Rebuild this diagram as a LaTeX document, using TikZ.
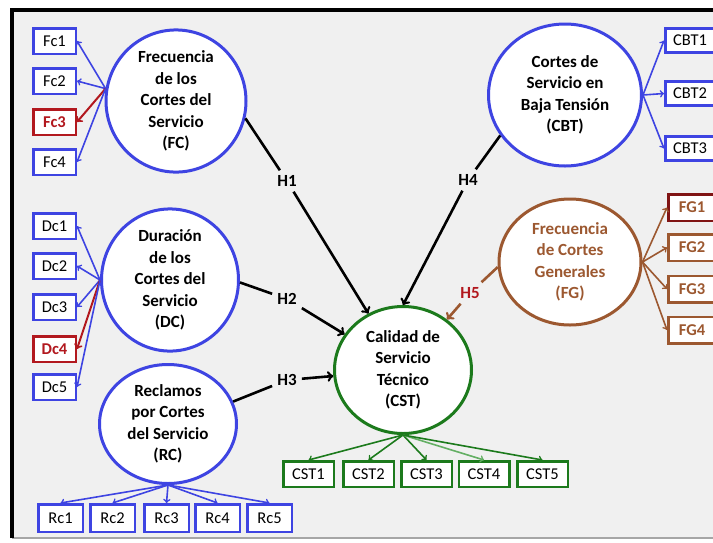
\documentclass[tikz,border=0pt]{standalone}
\usepackage{fontspec}
\setmainfont{Carlito}
\usepackage{tikz}
\usetikzlibrary{shapes.geometric}

\definecolor{lineBlue}{RGB}{62,68,226}
\definecolor{lineRed}{RGB}{178,24,30}
\definecolor{darkRed}{RGB}{128,20,20}
\definecolor{lineGreen}{RGB}{28,122,28}
\definecolor{lightGreen}{RGB}{100,175,100}
\definecolor{lineBrown}{RGB}{156,88,48}
\definecolor{panelGray}{RGB}{240,240,240}

\tikzset{
  factor/.style={ellipse, draw=lineBlue, line width=3pt, fill=white, align=center,
    inner sep=0pt, font=\bfseries\fontsize{17}{21.5}\selectfont},
  item/.style={draw=lineBlue, line width=2.5pt, fill=white, inner sep=0pt,
    minimum width=42.5pt, minimum height=25.5pt, font=\fontsize{16.5}{19}\selectfont},
  badItem/.style={draw=lineRed, text=lineRed, font=\bfseries\fontsize{16.5}{19}\selectfont},
  link/.style={->, draw=lineBlue, line width=1.6pt},
  hypLabel/.style={inner sep=5pt, font=\bfseries\fontsize{17}{20}\selectfont}
}

\newcommand{\drawHyp}[6]{
  \node[hypLabel, text=#5] (#2) at #3 {#2};
  \draw[line width=2.6pt, #6] (#1) -- (#2);
  \draw[->, line width=2.6pt, #6] (#2) -- (#4);
}

\begin{document}
\begin{tikzpicture}[x=1pt, y=-1pt]
  \useasboundingbox (0,0) rectangle (713,542);
  % Frame
  \fill[panelGray] (12,10) rectangle (713,538);
  \draw[black!35, line width=1.5pt] (12,538) -- (713,538);
  \draw[line width=4pt] (12,538) -- (12,10) -- (713,10);

  % Factors
  \node[factor, minimum width=140pt, minimum height=117pt] (fc) at (176,101)
    {Frecuencia\\de los\\Cortes del\\Servicio\\(FC)};
  \node[factor, minimum width=137pt, minimum height=127pt] (dc) at (170,280)
    {Duración\\de los\\Cortes del\\Servicio\\(DC)};
  \node[factor, minimum width=137pt, minimum height=119pt] (rc) at (168,424)
    {Reclamos\\por Cortes\\del Servicio\\(RC)};
  \node[factor, minimum width=153pt, minimum height=142pt] (cbt) at (565,95)
    {Cortes de\\Servicio en\\Baja Tensión\\(CBT)};
  \node[factor, draw=lineBrown, text=lineBrown, minimum width=142pt, minimum height=126pt] (fg) at (570,262)
    {Frecuencia\\de Cortes\\Generales\\(FG)};
  \node[factor, draw=lineGreen, minimum width=137pt, minimum height=127pt] (cst) at (403,370)
    {Calidad de\\Servicio\\Técnico\\(CST)};

  % Indicators FC
  \node[item] (fc1) at (54.5,41) {Fc1};
  \node[item] (fc2) at (54.5,81) {Fc2};
  \node[item, badItem] (fc3) at (54.5,122) {Fc3};
  \node[item] (fc4) at (54.5,162) {Fc4};
  \draw[link] (fc.170) -- (fc1.east);
  \draw[link] (fc.170) -- (fc2.east);
  \draw[link, draw=lineRed, line width=2pt] (fc.170) -- (fc3.east);
  \draw[link] (fc.170) -- (fc4.east);

  % Indicators DC
  \node[item] (dc1) at (54.5,226) {Dc1};
  \node[item] (dc2) at (54.5,266) {Dc2};
  \node[item] (dc3) at (54.5,307) {Dc3};
  \node[item, badItem] (dc4) at (54.5,349) {Dc4};
  \node[item] (dc5) at (54.5,387) {Dc5};
  \draw[link] (dc.west) -- (dc1.east);
  \draw[link] (dc.west) -- (dc2.east);
  \draw[link] (dc.west) -- (dc3.east);
  \draw[link, draw=lineRed, line width=2pt] (dc.west) -- (dc4.east);
  \draw[link] (dc.west) -- (dc5.east);

  % Indicators RC
  \node[item, minimum width=44.5pt, minimum height=27.5pt] (rc1) at (60.5,518) {Rc1};
  \node[item, minimum width=44.5pt, minimum height=27.5pt] (rc2) at (112.5,518) {Rc2};
  \node[item, minimum width=44.5pt, minimum height=27.5pt] (rc3) at (166.5,518) {Rc3};
  \node[item, minimum width=44.5pt, minimum height=27.5pt] (rc4) at (217.5,518) {Rc4};
  \node[item, minimum width=44.5pt, minimum height=27.5pt] (rc5) at (269.5,518) {Rc5};
  \draw[link] (rc.south) -- (rc1.north);
  \draw[link] (rc.south) -- (rc2.north);
  \draw[link] (rc.south) -- (rc3.north);
  \draw[link] (rc.south) -- (rc4.north);
  \draw[link] (rc.south) -- (rc5.north);

  % Indicators CBT
  \node[item, minimum width=49.5pt, minimum height=24pt] (cbt1) at (690,40.5) {CBT1};
  \node[item, minimum width=49.5pt, minimum height=24pt] (cbt2) at (690,93.5) {CBT2};
  \node[item, minimum width=49.5pt, minimum height=24pt] (cbt3) at (690,148.5) {CBT3};
  \draw[link] (cbt.east) -- (cbt1.west);
  \draw[link] (cbt.east) -- (cbt2.west);
  \draw[link] (cbt.east) -- (cbt3.west);

  % Indicators FG
  \node[item, draw=darkRed, text=lineBrown, font=\bfseries\fontsize{16.5}{19}\selectfont,
    minimum width=47.5pt, minimum height=26.5pt] (fg1) at (692,207.5) {FG1};
  \node[item, draw=lineBrown, text=lineBrown, font=\bfseries\fontsize{16.5}{19}\selectfont,
    minimum width=47.5pt, minimum height=26.5pt] (fg2) at (692,247.5) {FG2};
  \node[item, draw=lineBrown, text=lineBrown, font=\bfseries\fontsize{16.5}{19}\selectfont,
    minimum width=47.5pt, minimum height=26.5pt] (fg3) at (692,289) {FG3};
  \node[item, draw=lineBrown, text=lineBrown, font=\bfseries\fontsize{16.5}{19}\selectfont,
    minimum width=47.5pt, minimum height=26.5pt] (fg4) at (692,330) {FG4};
  \draw[link, draw=lineBrown] (fg.east) -- (fg1.west);
  \draw[link, draw=lineBrown] (fg.east) -- (fg2.west);
  \draw[link, draw=lineBrown] (fg.east) -- (fg3.west);
  \draw[link, draw=lineBrown] (fg.east) -- (fg4.west);

  % Indicators CST
  \node[item, draw=lineGreen, minimum width=50.5pt] (cst1) at (308.5,474) {CST1};
  \node[item, draw=lineGreen, minimum width=50.5pt] (cst2) at (368.5,474) {CST2};
  \node[item, draw=lineGreen, minimum width=50.5pt] (cst3) at (426.5,474) {CST3};
  \node[item, draw=lineGreen, minimum width=50.5pt] (cst4) at (484,474) {CST4};
  \node[item, draw=lineGreen, minimum width=50.5pt] (cst5) at (542.5,474) {CST5};
  \draw[link, draw=lineGreen] (cst.south) -- (cst1.north);
  \draw[link, draw=lineGreen] (cst.south) -- (cst2.north);
  \draw[link, draw=lineGreen] (cst.south) -- (cst3.north);
  \draw[link, draw=lightGreen] (cst.south) -- (cst4.north);
  \draw[link, draw=lineGreen] (cst.south) -- (cst5.north);

  % Hypotheses
  \drawHyp{fc.-14}{H1}{(287,181)}{cst}{black}{black}
  \drawHyp{dc.-2}{H2}{(287,299)}{cst}{black}{black}
  \drawHyp{rc.19}{H3}{(287,380)}{cst}{black}{black}
  \drawHyp{cbt.212}{H4}{(468,180)}{cst.north}{black}{black}
  \drawHyp{fg.184}{H5}{(470,293)}{cst}{lineRed}{lineBrown}
\end{tikzpicture}
\end{document}
